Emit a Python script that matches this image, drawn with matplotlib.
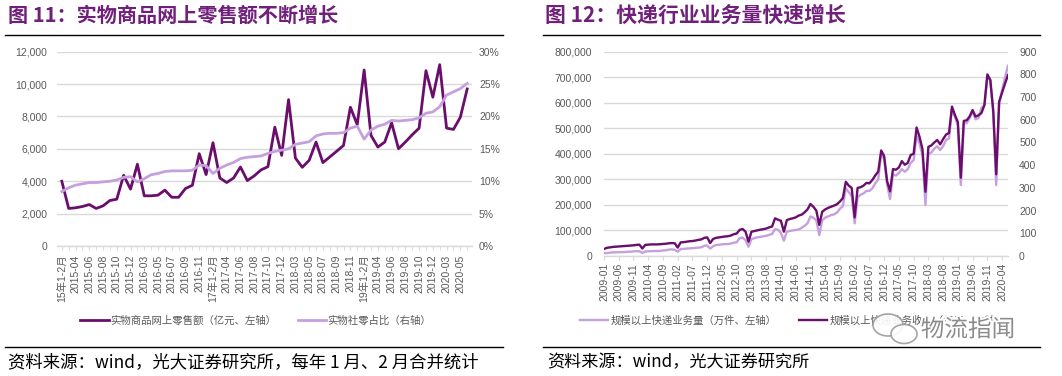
import matplotlib
matplotlib.use("Agg")
import matplotlib.pyplot as plt
from matplotlib.lines import Line2D
from matplotlib.patches import Ellipse
from matplotlib.ticker import FuncFormatter
import matplotlib.patheffects as pe

plt.rcParams['font.family'] = ['Liberation Sans', 'Noto Sans CJK SC']

# ---------------- data: figure 11 ----------------
retail_months = []
for _y in range(2015, 2021):
    retail_months.append(f"{_y % 100}年1-2月")
    for _m in range(3, (6 if _y == 2020 else 12) + 1):
        retail_months.append(f"{_y}-{_m:02d}")

online_retail = [4000, 2320, 2360, 2440, 2560, 2320, 2480, 2810, 2890, 4370, 3510,
                 5050, 3100, 3100, 3140, 3450, 3010, 3010, 3550, 3750, 5700, 4410,
                 6380, 4200, 3920, 4200, 4880, 4040, 4330, 4700, 4900, 7340, 5600,
                 9040, 5430, 4860, 5290, 6420, 5150, 5500, 5850, 6210, 8570, 7490,
                 10870, 6830, 6110, 6420, 7610, 6010, 6420, 6870, 7280, 10830, 9190,
                 11200, 7280, 7200, 7950, 9700]

retail_share = [8.4, 9.0, 9.4, 9.6, 9.8, 9.8, 9.9, 10.0, 10.2, 10.6, 10.7,
                9.9, 10.4, 11.0, 11.2, 11.5, 11.6, 11.6, 11.6, 11.7, 12.5, 12.4,
                11.2, 12.0, 12.5, 12.9, 13.5, 13.7, 13.8, 13.9, 14.3, 14.6, 14.8,
                15.0, 15.7, 15.9, 16.1, 17.0, 17.3, 17.4, 17.4, 17.5, 18.2, 18.5,
                16.5, 17.9, 18.5, 18.8, 19.4, 19.3, 19.4, 19.5, 19.8, 20.5, 20.7,
                21.5, 23.3, 23.8, 24.3, 25.1]

retail_left_ticks = [0, 2000, 4000, 6000, 8000, 10000, 12000]
retail_right_ticks = [0, 5, 10, 15, 20, 25, 30]

# ---------------- data: figure 12 ----------------
express_months = [f"{_y}-{_m:02d}" for _y in range(2009, 2021) for _m in range(1, 13)][:138]

express_volume = [11000, 11500, 13000, 14000, 14500, 14800, 15000, 15500, 16500, 17000, 18000, 19000,
                  18500, 12000, 17500, 18500, 19000, 19500, 19500, 20000, 21500, 22500, 25000, 26000,
                  24000, 17000, 27000, 28000, 29000, 30000, 30500, 31500, 33000, 34000, 40000, 41000,
                  29000, 38000, 43000, 44000, 45500, 46500, 47000, 48500, 52000, 54000, 70000, 72000,
                  62000, 36400, 66000, 70000, 73000, 75000, 77000, 79000, 83000, 86000, 105000, 103000,
                  90000, 60000, 95000, 98000, 100000, 102000, 104000, 110000, 118000, 128000, 155000, 150000,
                  140000, 82000, 140000, 150000, 155000, 160000, 163000, 170000, 185000, 195000, 265000, 250000,
                  235000, 128000, 230000, 240000, 245000, 255000, 255000, 265000, 285000, 300000, 400000, 380000,
                  280000, 223000, 320000, 315000, 325000, 340000, 330000, 340000, 365000, 375000, 470000, 440000,
                  395000, 200000, 400000, 405000, 420000, 430000, 415000, 430000, 455000, 460000, 575000, 545000,
                  510000, 278000, 520000, 520000, 540000, 565000, 535000, 540000, 580000, 590000, 700000, 690000,
                  560000, 278000, 600000, 650000, 700000, 745000]

express_revenue = [31, 36, 38, 40, 41, 42, 43, 44, 45, 46, 47, 49,
                   50, 33, 49, 50, 51, 51, 51, 52, 53, 54, 56, 57,
                   56, 37, 60, 61, 63, 65, 66, 68, 71, 73, 80, 82,
                   57, 75, 80, 82, 84, 86, 87, 90, 96, 99, 115, 119,
                   107, 63, 107, 110, 113, 116, 118, 121, 126, 130, 166, 160,
                   155, 107, 158, 163, 166, 170, 178, 182, 192, 205, 229, 217,
                   200, 137, 195, 205, 212, 217, 222, 228, 240, 255, 327, 310,
                   300, 170, 300, 303, 310, 322, 320, 335, 355, 372, 465, 440,
                   330, 285, 383, 380, 390, 418, 402, 410, 445, 450, 566, 525,
                   470, 283, 481, 487, 500, 511, 492, 515, 535, 542, 658, 621,
                   590, 345, 595, 598, 615, 643, 614, 620, 630, 665, 800, 775,
                   640, 360, 680, 720, 760, 797]

express_left_ticks = [0, 100000, 200000, 300000, 400000, 500000, 600000, 700000, 800000]
express_right_ticks = [0, 100, 200, 300, 400, 500, 600, 700, 800, 900]

# ---------------- styling ----------------
DARK = '#6A0D6C'
LIGHT = '#C6A0DE'
GRID = '#D9D9D9'
TXT = '#595959'
TITLE = '#70207A'
W, H = 1062, 376

fig = plt.figure(figsize=(W / 100, H / 100), dpi=100)
fig.patch.set_facecolor('white')


def fx(px):
    return px / W


def fy(py):
    return 1 - py / H


def style_axes(ax, ax2):
    for s in ['top', 'left', 'right']:
        ax.spines[s].set_visible(False)
        ax2.spines[s].set_visible(False)
    ax2.spines['bottom'].set_visible(False)
    ax.spines['bottom'].set_color(GRID)
    ax.spines['bottom'].set_linewidth(1.0)
    ax.grid(axis='y', color=GRID, lw=1.0)
    ax.set_axisbelow(True)


# ================= Figure 11 =================
axL = fig.add_axes([fx(57), fy(246), fx(472 - 57), (246 - 51.7) / H])
xL = list(range(len(online_retail)))
lineL1, = axL.plot(xL, online_retail, color=DARK, lw=2.0)
axL.set_xlim(-0.7, len(online_retail) - 1 + 0.7)
axL.set_ylim(0, 12000)
axL.set_yticks(retail_left_ticks)
axL.yaxis.set_major_formatter(FuncFormatter(lambda v, p: f"{int(v):,}"))
axL2 = axL.twinx()
lineL2, = axL2.plot(xL, retail_share, color=LIGHT, lw=2.0)
axL2.set_ylim(0, 30)
axL2.set_yticks(retail_right_ticks)
axL2.yaxis.set_major_formatter(FuncFormatter(lambda v, p: f"{int(v)}%"))
style_axes(axL, axL2)
tickposL = list(range(0, len(retail_months), 2))
axL.set_xticks(tickposL)
axL.set_xticklabels([retail_months[i] for i in tickposL], rotation=90)
axL.set_xticks(xL, minor=True)
axL.tick_params(axis='x', which='both', length=3, color=GRID, labelsize=7.5, labelcolor=TXT, pad=3)
axL.tick_params(axis='y', length=0, pad=7, labelsize=7.5, labelcolor=TXT)
axL2.tick_params(axis='y', length=0, pad=5, labelsize=7.5, labelcolor=TXT)

fig.legend(handles=[lineL1, lineL2],
           labels=['实物商品网上零售额（亿元、左轴）', '实物社零占比（右轴）'],
           loc='center', bbox_to_anchor=(fx(256), fy(320)), ncol=2, frameon=False,
           fontsize=7.5, handlelength=2.7, handletextpad=0.2, columnspacing=2.0,
           labelcolor=TXT)

# ================= Figure 12 =================
axR = fig.add_axes([fx(604), fy(256), fx(1008 - 604), (256 - 51.7) / H])
xR = list(range(len(express_volume)))
lineR1, = axR.plot(xR, express_volume, color=LIGHT, lw=1.7)
axR.set_xlim(0, len(express_volume) - 1)
axR.set_ylim(0, 800000)
axR.set_yticks(express_left_ticks)
axR.yaxis.set_major_formatter(FuncFormatter(lambda v, p: f"{int(v):,}"))
axR2 = axR.twinx()
lineR2, = axR2.plot(xR, express_revenue, color=DARK, lw=1.7)
axR2.set_ylim(0, 900)
axR2.set_yticks(express_right_ticks)
axR2.yaxis.set_major_formatter(FuncFormatter(lambda v, p: f"{int(v)}"))
style_axes(axR, axR2)
tickposR = list(range(0, len(express_months), 5))
axR.set_xticks(tickposR)
axR.set_xticklabels([express_months[i] for i in tickposR], rotation=90)
axR.tick_params(axis='x', length=3, color=GRID, labelsize=7.5, labelcolor=TXT, pad=2)
axR.tick_params(axis='y', length=0, pad=8.5, labelsize=7.5, labelcolor=TXT)
axR2.tick_params(axis='y', length=0, pad=8, labelsize=7.5, labelcolor=TXT)

fig.legend(handles=[lineR1, lineR2],
           labels=['规模以上快递业务量（万件、左轴）', '规模以上快递业务收入（亿元、右轴）'],
           loc='center', bbox_to_anchor=(fx(793), fy(320.5)), ncol=2, frameon=False,
           fontsize=7.5, handlelength=2.7, handletextpad=0.2, columnspacing=2.2,
           labelcolor=TXT)

# ================= titles, rules, sources =================
fig.text(fx(8), fy(15), "图 11：实物商品网上零售额不断增长", fontsize=14.5, weight='bold',
         color=TITLE, ha='left', va='center', family=['Noto Sans CJK SC'])
fig.text(fx(545), fy(15), "图 12：快递行业业务量快速增长", fontsize=15, weight='bold',
         color=TITLE, ha='left', va='center', family=['Noto Sans CJK SC'])

for x0, x1 in [(5, 503), (543, 1040)]:
    fig.add_artist(Line2D([fx(x0), fx(x1)], [fy(35), fy(35)], color='black', lw=1.0))
    fig.add_artist(Line2D([fx(x0), fx(x1)], [fy(347), fy(347)], color='black', lw=1.0))

fig.text(fx(8), fy(362), "资料来源：wind，光大证券研究所，每年 1 月、2 月合并统计", fontsize=12.5,
         color='black', ha='left', va='center', family=['Noto Sans CJK SC', 'DejaVu Sans'])
fig.text(fx(547), fy(362), "资料来源：wind，光大证券研究所", fontsize=12.3,
         color='black', ha='left', va='center', family=['Noto Sans CJK SC', 'DejaVu Sans'])

# ================= watermark =================
for cx, cy, w, h in [(888, 325, 30, 22), (904, 334, 26, 19)]:
    fig.add_artist(Ellipse((fx(cx), fy(cy)), fx(w), h / H, facecolor='white', edgecolor='#9a9a9a',
                           lw=1.2, zorder=9, alpha=0.9))
fig.text(fx(968), fy(330), "物流指闻", fontsize=17, color='#8c8c8c', ha='center', va='center',
         family=['Noto Sans CJK SC'], zorder=10,
         path_effects=[pe.withStroke(linewidth=3, foreground='white')])

fig.savefig('out.png', dpi=100, facecolor='white')
